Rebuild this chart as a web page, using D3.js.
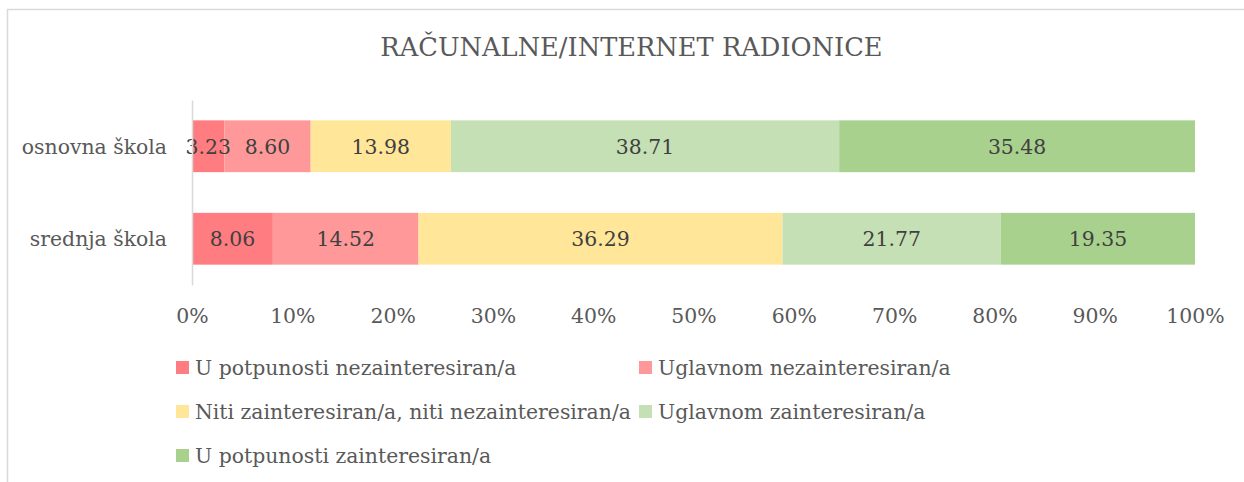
<!DOCTYPE html>
<html><head><meta charset="utf-8">
<script src="https://cdn.jsdelivr.net/npm/d3@7"></script>
<style>body{margin:0;background:#fff;}svg{display:block;}</style>
</head><body>
<script>
const categories = ["osnovna škola", "srednja škola"];
const seriesNames = ["U potpunosti nezainteresiran/a", "Uglavnom nezainteresiran/a", "Niti zainteresiran/a, niti nezainteresiran/a", "Uglavnom zainteresiran/a", "U potpunosti zainteresiran/a"];
const osnovna = [3.23, 8.60, 13.98, 38.71, 35.48];
const srednja = [8.06, 14.52, 36.29, 21.77, 19.35];
const colors = ["#FF7C80", "#FF9999", "#FFE699", "#C5E0B4", "#A9D18E"];
const tickValues = [0, 0.1, 0.2, 0.3, 0.4, 0.5, 0.6, 0.7, 0.8, 0.9, 1.0];
const title = "RAČUNALNE/INTERNET RADIONICE";

const W = 1244, H = 482;
const FONT = "'DejaVu Serif', serif";
const FS = 20.4;
const svg = d3.select("body").append("svg").attr("width", W).attr("height", H);
svg.append("rect").attr("x", 7.5).attr("y", 9.5).attr("width", W + 10).attr("height", H + 10)
  .attr("fill", "#fff").attr("stroke", "#d9d9d9").attr("stroke-width", 1.5);

svg.append("text").attr("x", 631.5).attr("y", 56).attr("text-anchor", "middle")
  .attr("font-family", FONT).attr("font-size", 25.7).attr("fill", "#595959").text(title);

const x = d3.scaleLinear().domain([0, 1]).range([192, 1195]);
const y = d3.scaleBand().domain(categories).range([100, 285]).paddingInner(0.44).paddingOuter(0.22);

const rows = [osnovna, srednja];
const stackData = categories.map((c, i) => {
  const o = {cat: c};
  const total = d3.sum(rows[i]);
  rows[i].forEach((v, j) => o["s" + j] = v / total);
  o.raw = rows[i];
  return o;
});
const keys = seriesNames.map((_, j) => "s" + j);
const stacked = d3.stack().keys(keys)(stackData);

const g = svg.append("g");
stacked.forEach((layer, j) => {
  g.selectAll(null).data(layer).join("rect")
    .attr("x", d => x(d[0])).attr("y", d => y(d.data.cat))
    .attr("width", d => x(d[1]) - x(d[0])).attr("height", y.bandwidth())
    .attr("fill", colors[j]);
});
stacked.forEach((layer, j) => {
  g.selectAll(null).data(layer).join("text")
    .attr("x", d => (x(d[0]) + x(d[1])) / 2).attr("y", d => y(d.data.cat) + y.bandwidth() / 2)
    .attr("dy", "0.36em").attr("text-anchor", "middle")
    .attr("font-family", FONT).attr("font-size", FS).attr("fill", "#404040")
    .text(d => d.data.raw[j].toFixed(2));
});

// category axis
const yAxis = d3.axisLeft(y).tickSize(0).tickPadding(25);
const ya = svg.append("g").attr("transform", "translate(192,0)").call(yAxis);
ya.select(".domain").attr("stroke", "#d9d9d9").attr("stroke-width", 1.5);
ya.selectAll("text").attr("font-family", FONT).attr("font-size", FS).attr("fill", "#595959").attr("dy", "0.36em");

// x axis
const xAxis = d3.axisBottom(x).tickValues(tickValues).tickFormat(d3.format(".0%")).tickSize(0).tickPadding(0);
const xa = svg.append("g").attr("transform", "translate(0,316)").call(xAxis);
xa.select(".domain").remove();
xa.selectAll("text").attr("font-family", FONT).attr("font-size", FS).attr("fill", "#595959").attr("dy", "0.36em");

// legend
const legPos = [[176, 367.5], [639, 367.5], [176, 411.5], [639, 411.5], [176, 455.5]];
seriesNames.forEach((n, j) => {
  const [lx, ly] = legPos[j];
  svg.append("rect").attr("x", lx).attr("y", ly - 6.5).attr("width", 13).attr("height", 13).attr("fill", colors[j]);
  svg.append("text").attr("x", lx + 19).attr("y", ly).attr("dy", "0.36em")
    .attr("font-family", FONT).attr("font-size", FS).attr("fill", "#595959").text(n);
});
</script>
</body></html>
